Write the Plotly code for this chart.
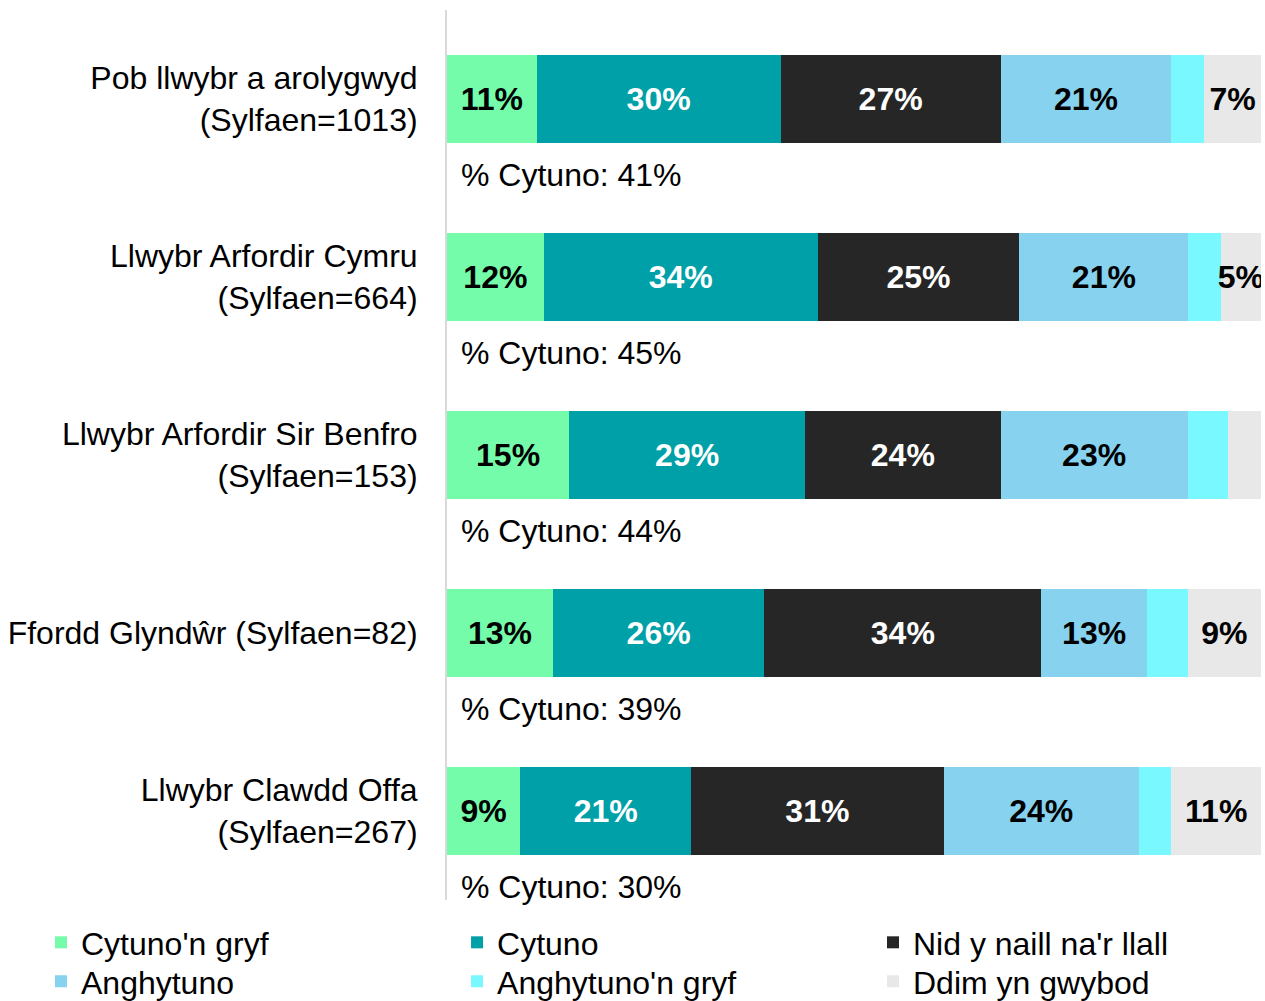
import plotly.graph_objects as go

# Routes surveyed (top to bottom)
routes = [
    "Pob llwybr a arolygwyd<br>(Sylfaen=1013)",
    "Llwybr Arfordir Cymru<br>(Sylfaen=664)",
    "Llwybr Arfordir Sir Benfro<br>(Sylfaen=153)",
    "Ffordd Glyndŵr (Sylfaen=82)",
    "Llwybr Clawdd Offa<br>(Sylfaen=267)",
]

# Response shares (%) per route
cytuno_gryf = [11, 12, 15, 13, 9]
cytuno = [30, 34, 29, 26, 21]
dim_naill = [27, 25, 24, 34, 31]
anghytuno = [21, 21, 23, 13, 24]
anghytuno_gryf = [4, 4, 5, 5, 4]
ddim_gwybod = [7, 5, 4, 9, 11]

# Total agreeing (%) shown beneath each bar
cytuno_total = [41, 45, 44, 39, 30]

# Series names, in stacking order
series_names = ["Cytuno'n gryf", "Cytuno", "Nid y naill na'r llall",
                "Anghytuno", "Anghytuno'n gryf", "Ddim yn gwybod"]

FONT = "Liberation Sans, Arial, sans-serif"
FS = 32

# name, values, fill, label colour, smallest labelled value
series = [
    (series_names[0], cytuno_gryf, "#74FCAB", "#000000", 0),
    (series_names[1], cytuno, "#00A0A8", "#FFFFFF", 0),
    (series_names[2], dim_naill, "#262626", "#FFFFFF", 0),
    (series_names[3], anghytuno, "#86D2EF", "#000000", 0),
    (series_names[4], anghytuno_gryf, "#79F8FF", "#000000", 101),
    (series_names[5], ddim_gwybod, "#E8E8E8", "#000000", 5),
]

# Legend grid: three columns, two rows, one legend box per entry
legend_cols = [0.0324, 0.3613, 0.6901]
legend_rows = [0.0859, 0.0470]

ypos = list(range(len(routes)))

fig = go.Figure()
legend_layout = {}
for k, (name, vals, color, tcolor, min_label) in enumerate(series):
    labels = [f"{v}%" if v >= min_label else "" for v in vals]
    lg = "legend" if k == 0 else f"legend{k + 1}"
    fig.add_trace(go.Bar(
        name=name,
        y=ypos,
        x=vals,
        orientation="h",
        width=0.49,
        marker=dict(color=color, line=dict(width=0)),
        text=labels,
        textposition="inside",
        insidetextanchor="middle",
        textangle=0,
        constraintext="none",
        textfont=dict(family=FONT, size=FS, color=tcolor, weight="bold"),
        hoverinfo="skip",
        legend=lg,
    ))
    legend_layout[lg] = dict(
        orientation="v",
        x=legend_cols[k % 3], xref="container", xanchor="left",
        y=legend_rows[k // 3], yref="container", yanchor="top",
        font=dict(family=FONT, size=FS, color="#000000"),
        bgcolor="rgba(0,0,0,0)",
    )

for i, tot in enumerate(cytuno_total):
    fig.add_annotation(
        x=1.5, y=i + 0.425, xref="x", yref="y",
        text=f"% Cytuno: {tot}%",
        showarrow=False, xanchor="left", yanchor="middle",
        font=dict(family=FONT, size=FS, color="#000000"),
    )

fig.update_layout(
    barmode="stack",
    barnorm="percent",
    width=1265, height=1001,
    margin=dict(l=447, r=4, t=10, b=101, autoexpand=False),
    plot_bgcolor="white",
    paper_bgcolor="white",
    font=dict(family=FONT, size=FS, color="#000000"),
    showlegend=True,
    xaxis=dict(
        range=[0, 100],
        showgrid=False, zeroline=False, showticklabels=False,
        showline=False, fixedrange=True,
    ),
    yaxis=dict(
        range=[4.5, -0.5],
        tickmode="array", tickvals=ypos, ticktext=routes,
        showgrid=False, zeroline=False,
        showline=True, linecolor="#D9D9D9", linewidth=2,
        ticks="", ticklabelstandoff=21,
        automargin=False,
        tickfont=dict(family=FONT, size=FS, color="#000000"),
    ),
    **legend_layout,
)

fig.write_html("out.html")
